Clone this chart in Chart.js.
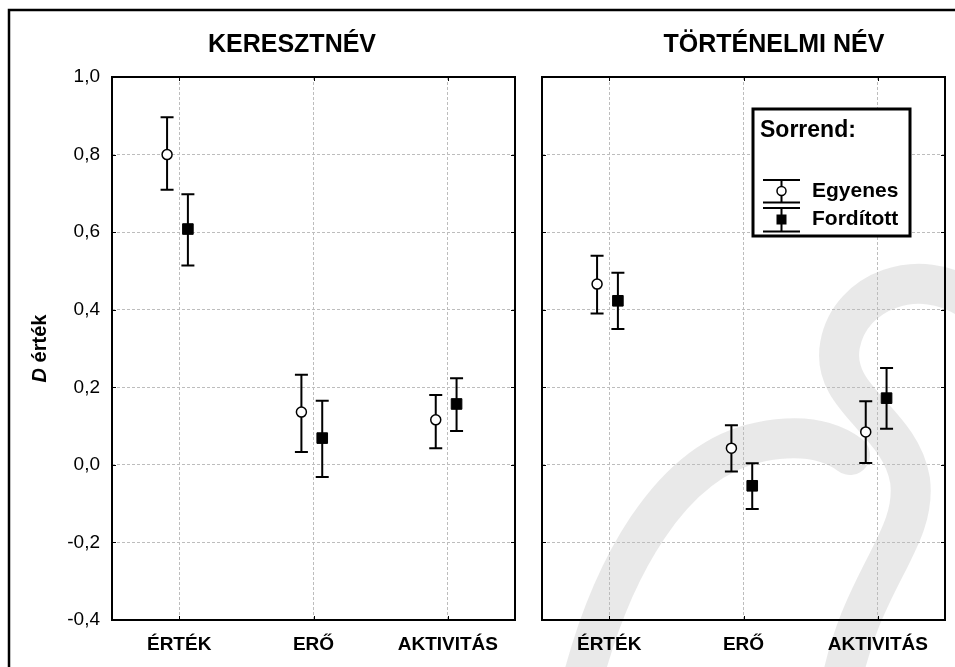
<!DOCTYPE html>
<html><head><meta charset="utf-8">
<script src="https://cdn.jsdelivr.net/npm/chart.js@4.4.0/dist/chart.umd.min.js"></script>
<style>
html,body{margin:0;padding:0;background:#fff;}
#wrap{position:relative;width:955px;height:667px;overflow:hidden;background:#fff;}
#wrap canvas{position:absolute;left:0;top:0;}
</style></head><body>
<div id="wrap">
<canvas id="bg" width="955" height="667"></canvas>
<canvas id="c1" width="955" height="667"></canvas>
<canvas id="c2" width="955" height="667"></canvas>
</div>
<script>
// ---- data ----
const categories = ['ÉRTÉK', 'ERŐ', 'AKTIVITÁS'];
const panelTitles = ['KERESZTNÉV', 'TÖRTÉNELMI NÉV'];
const seriesNames = ['Egyenes', 'Fordított'];
const legendTitle = 'Sorrend:';
const yTickValues = [-0.4, -0.2, 0.0, 0.2, 0.4, 0.6, 0.8, 1.0];
const yAxisTitleItalic = 'D';
const yAxisTitleRest = ' érték';

// KERESZTNÉV
const kerEgyenesMean = [0.800, 0.136, 0.116];
const kerEgyenesLow  = [0.709, 0.033, 0.043];
const kerEgyenesHigh = [0.896, 0.232, 0.180];
const kerFordMean = [0.608, 0.069, 0.157];
const kerFordLow  = [0.514, -0.031, 0.087];
const kerFordHigh = [0.698, 0.165, 0.223];
// TÖRTÉNELMI NÉV
const tortEgyenesMean = [0.466, 0.043, 0.085];
const tortEgyenesLow  = [0.390, -0.017, 0.005];
const tortEgyenesHigh = [0.539, 0.102, 0.164];
const tortFordMean = [0.423, -0.054, 0.172];
const tortFordLow  = [0.350, -0.114, 0.093];
const tortFordHigh = [0.495, 0.004, 0.250];

// ---- style ----
const FONT = '"Liberation Sans", Arial, sans-serif';
const DODGE_E = -0.09, DODGE_F = 0.065;
const GRID = '#bdbdbd';

// background: watermark + outer frame
(function(){
  const c = document.getElementById('bg').getContext('2d');
  c.fillStyle = '#fff'; c.fillRect(0,0,955,667);
  c.strokeStyle = 'rgba(200,200,200,0.4)';
  c.lineWidth = 40; c.lineCap = 'round';
  c.beginPath();
  c.moveTo(580, 690);
  c.bezierCurveTo(610, 570, 670, 460, 760, 442);
  c.bezierCurveTo(800, 434, 830, 440, 850, 455);
  c.stroke();
  c.beginPath();
  c.moveTo(970, 300);
  c.bezierCurveTo(920, 265, 850, 290, 840, 345);
  c.bezierCurveTo(830, 400, 900, 420, 910, 480);
  c.bezierCurveTo(918, 540, 860, 580, 840, 690);
  c.stroke();
  c.strokeStyle = '#000'; c.lineWidth = 2.5; c.lineCap = 'butt';
  c.beginPath(); c.moveTo(9, 667); c.lineTo(9, 10); c.lineTo(955, 10); c.stroke();
})();

function fmt(v){ return v.toFixed(1).replace('.', ','); }

const errorBars = {
  id: 'errorBars',
  beforeDatasetsDraw(chart) {
    const ctx = chart.ctx, ys = chart.scales.y, a = chart.chartArea;
    // frame + inward ticks
    ctx.save();
    ctx.strokeStyle = '#000'; ctx.lineWidth = 2;
    ctx.strokeRect(a.left, a.top, a.right - a.left, a.bottom - a.top);
    ctx.lineWidth = 1;
    ctx.beginPath();
    yTickValues.forEach(v => {
      const y = Math.round(ys.getPixelForValue(v)) + 0.5;
      ctx.moveTo(a.left, y); ctx.lineTo(a.left + 4, y);
      ctx.moveTo(a.right, y); ctx.lineTo(a.right - 4, y);
    });
    categories.forEach((c, i) => {
      const x = Math.round(chart.scales.x.getPixelForValue(i + 1)) + 0.5;
      ctx.moveTo(x, a.bottom); ctx.lineTo(x, a.bottom - 4);
      ctx.moveTo(x, a.top); ctx.lineTo(x, a.top + 4);
    });
    ctx.stroke();
    // error bars
    ctx.lineWidth = 2;
    chart.data.datasets.forEach((ds, d) => {
      const meta = chart.getDatasetMeta(d);
      meta.data.forEach((pt, i) => {
        const x = pt.x;
        const yl = ys.getPixelForValue(ds.lo[i]);
        const yh = ys.getPixelForValue(ds.hi[i]);
        ctx.beginPath();
        ctx.moveTo(x, yl); ctx.lineTo(x, yh);
        ctx.moveTo(x - 6.5, yl); ctx.lineTo(x + 6.5, yl);
        ctx.moveTo(x - 6.5, yh); ctx.lineTo(x + 6.5, yh);
        ctx.stroke();
      });
    });
    ctx.restore();
  },
  afterDraw(chart) {
    const ctx = chart.ctx, a = chart.chartArea, o = chart.options.plugins.extra;
    ctx.save();
    ctx.fillStyle = '#000';
    ctx.textAlign = 'center'; ctx.textBaseline = 'middle';
    ctx.font = 'bold 25px ' + FONT;
    ctx.fillText(o.title, o.titleX, 45);
    if (o.yTitle) {
      ctx.translate(40, (a.top + a.bottom) / 2);
      ctx.rotate(-Math.PI / 2);
      const f1 = 'italic bold 20px ' + FONT, f2 = 'bold 20px ' + FONT;
      ctx.font = f1; const w1 = ctx.measureText(yAxisTitleItalic).width;
      ctx.font = f2; const w2 = ctx.measureText(yAxisTitleRest).width;
      ctx.textAlign = 'left';
      ctx.font = f1; ctx.fillText(yAxisTitleItalic, -(w1 + w2) / 2, 0);
      ctx.font = f2; ctx.fillText(yAxisTitleRest, -(w1 + w2) / 2 + w1, 0);
      ctx.setTransform(1, 0, 0, 1, 0, 0);
    }
    if (o.legend) {
      ctx.fillStyle = '#fff';
      ctx.fillRect(753, 109, 157, 127);
      ctx.strokeStyle = '#000'; ctx.lineWidth = 3;
      ctx.strokeRect(753, 109, 157, 127);
      ctx.fillStyle = '#000'; ctx.textAlign = 'left';
      ctx.font = 'bold 23px ' + FONT;
      ctx.fillText(legendTitle, 760, 131);
      ctx.lineWidth = 2;
      const sx = 781.5;
      [[180, 202.5, 191], [208, 231.5, 219.5]].forEach((r, k) => {
        ctx.beginPath();
        ctx.moveTo(763, r[0]); ctx.lineTo(800, r[0]);
        ctx.moveTo(763, r[1]); ctx.lineTo(800, r[1]);
        ctx.moveTo(sx, r[0]); ctx.lineTo(sx, r[1]);
        ctx.stroke();
        if (k === 0) {
          ctx.beginPath(); ctx.arc(sx, r[2], 4.5, 0, Math.PI * 2);
          ctx.fillStyle = '#fff'; ctx.fill(); ctx.lineWidth = 1.5; ctx.stroke(); ctx.lineWidth = 2;
        } else {
          ctx.fillStyle = '#000'; ctx.fillRect(sx - 5, r[2] - 5, 10, 10);
        }
        ctx.fillStyle = '#000';
        ctx.font = 'bold 21px ' + FONT;
        ctx.fillText(seriesNames[k], 812, r[2]);
      });
    }
    ctx.restore();
  }
};

function makeChart(id, eMean, eLo, eHi, fMean, fLo, fHi, opts) {
  return new Chart(document.getElementById(id), {
    type: 'scatter',
    data: {
      datasets: [
        { label: seriesNames[0], data: eMean.map((v, i) => ({ x: i + 1 + DODGE_E, y: v })),
          lo: eLo, hi: eHi, pointStyle: 'circle', pointRadius: 5, pointBackgroundColor: '#fff',
          pointBorderColor: '#000', pointBorderWidth: 1.5, showLine: false },
        { label: seriesNames[1], data: fMean.map((v, i) => ({ x: i + 1 + DODGE_F, y: v })),
          lo: fLo, hi: fHi, pointStyle: 'rect', pointRadius: 7.5, pointBackgroundColor: '#000',
          pointBorderColor: '#000', pointBorderWidth: 1, showLine: false }
      ]
    },
    options: {
      responsive: false, animation: false, devicePixelRatio: 1,
      layout: { padding: { left: opts.padLeft, right: opts.padRight, top: 77, bottom: 0 } },
      plugins: { legend: { display: false }, tooltip: { enabled: false }, extra: opts },
      scales: {
        x: {
          type: 'linear', min: 0.5, max: 3.5,
          afterBuildTicks: s => { s.ticks = categories.map((c, i) => ({ value: i + 1 })); },
          afterFit: s => { s.height = 47; },
          ticks: { callback: v => categories[Math.round(v) - 1], color: '#000', padding: 13,
                   font: { family: FONT, size: 19, weight: 'bold' }, maxRotation: 0, autoSkip: false },
          grid: { color: GRID, lineWidth: 1, drawTicks: false },
          border: { display: false, dash: [3, 2] }
        },
        y: {
          min: -0.4, max: 1.0,
          afterBuildTicks: s => { s.ticks = yTickValues.map(v => ({ value: v })); },
          afterFit: s => { s.width = opts.yWidth; },
          ticks: { display: opts.yLabels, callback: v => fmt(v), color: '#000', padding: 12,
                   font: { family: FONT, size: 19 } },
          grid: { color: GRID, lineWidth: 1, drawTicks: false },
          border: { display: false, dash: [3, 2] }
        }
      }
    },
    plugins: [errorBars]
  });
}

makeChart('c1', kerEgyenesMean, kerEgyenesLow, kerEgyenesHigh, kerFordMean, kerFordLow, kerFordHigh,
  { title: panelTitles[0], titleX: 292, yTitle: true, legend: false, padLeft: 0, padRight: 440, yWidth: 112, yLabels: true });
makeChart('c2', tortEgyenesMean, tortEgyenesLow, tortEgyenesHigh, tortFordMean, tortFordLow, tortFordHigh,
  { title: panelTitles[1], titleX: 774, yTitle: false, legend: true, padLeft: 542, padRight: 10, yWidth: 0, yLabels: false });
</script>
</body></html>
